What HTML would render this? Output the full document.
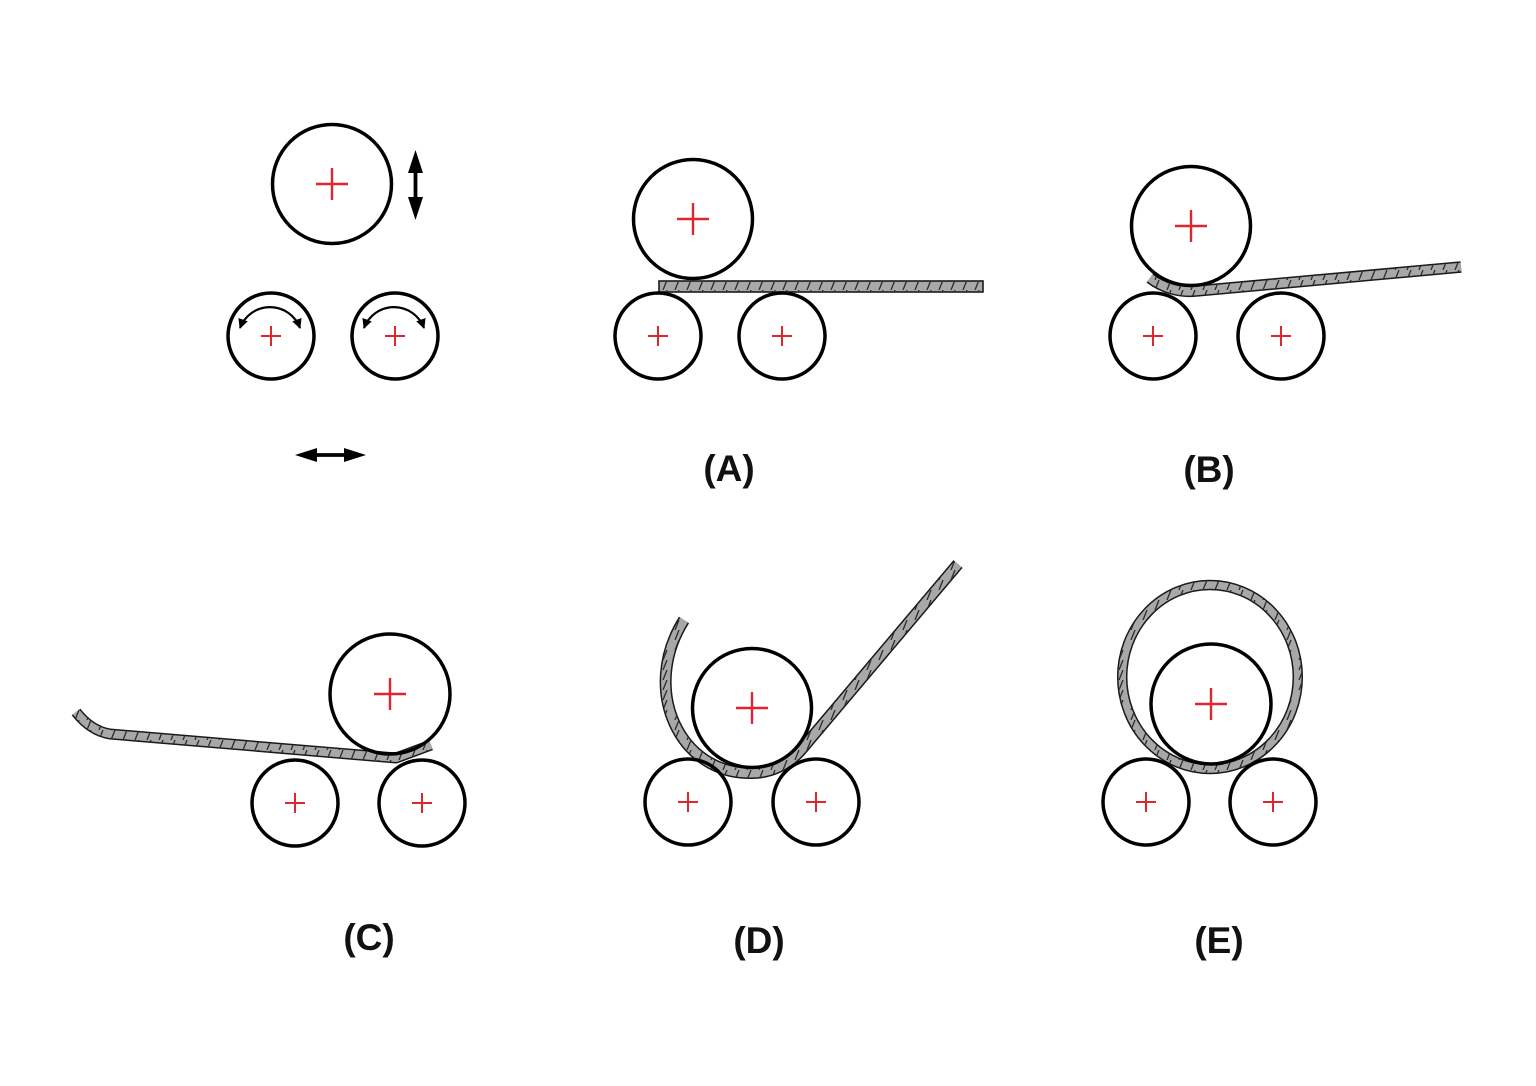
<!DOCTYPE html>
<html>
<head>
<meta charset="utf-8">
<style>
html,body{margin:0;padding:0;background:#fff;}
svg{display:block;}
text{font-family:"Liberation Sans",Arial,sans-serif;font-weight:bold;font-size:37px;fill:#111;}
</style>
</head>
<body>
<svg width="1536" height="1086" viewBox="0 0 1536 1086" xmlns="http://www.w3.org/2000/svg">
<defs>
  <pattern id="hatch" patternUnits="userSpaceOnUse" width="12" height="10">
    <line x1="3" y1="10" x2="7" y2="0" stroke="#2a2a2a" stroke-width="1.3"/>
  </pattern>
  <marker id="ah" viewBox="0 0 10 10" refX="9" refY="5" markerWidth="4.5" markerHeight="4.5" orient="auto-start-reverse" markerUnits="strokeWidth">
    <path d="M0,0 L10,5 L0,10 z" fill="#000"/>
  </marker>
</defs>

<!-- ===== Plates ===== -->
<rect x="659" y="281" width="324" height="11" fill="#a8a8a8" stroke="#1a1a1a" stroke-width="1.6"/>
<rect x="660" y="282" width="322" height="9" fill="url(#hatch)"/>

<g fill="none" stroke-linejoin="round">
  <path d="M 1150 278 A 65 65 0 0 0 1196 291 L 1461 267" stroke="#1a1a1a" stroke-width="11.5"/>
  <path d="M 1150 278 A 65 65 0 0 0 1196 291 L 1461 267" stroke="#a8a8a8" stroke-width="8.5"/>
  <path d="M 1150 278 A 65 65 0 0 0 1196 291 L 1461 267" stroke="url(#hatch)" stroke-width="8.5"/>
</g>

<g fill="none" stroke-linejoin="round">
  <path d="M 76 712 Q 91 731 110 734 L 396 758 L 431 745" stroke="#1a1a1a" stroke-width="11"/>
  <path d="M 76 712 Q 91 731 110 734 L 396 758 L 431 745" stroke="#a8a8a8" stroke-width="8"/>
  <path d="M 76 712 Q 91 731 110 734 L 396 758 L 431 745" stroke="url(#hatch)" stroke-width="8"/>
</g>

<g fill="none" stroke-linejoin="round">
  <path d="M 958 564 L 801 750 A 65 65 0 0 1 752 773 C 680 775 640 690 684 620" stroke="#1a1a1a" stroke-width="12"/>
  <path d="M 958 564 L 801 750 A 65 65 0 0 1 752 773 C 680 775 640 690 684 620" stroke="#a8a8a8" stroke-width="9"/>
  <path d="M 958 564 L 801 750 A 65 65 0 0 1 752 773 C 680 775 640 690 684 620" stroke="url(#hatch)" stroke-width="9"/>
</g>

<g fill="none">
  <ellipse cx="1210" cy="677" rx="87.8" ry="92" stroke="#1a1a1a" stroke-width="10.5"/>
  <ellipse cx="1210" cy="677" rx="87.8" ry="92" stroke="#a8a8a8" stroke-width="7.5"/>
  <ellipse cx="1210" cy="677" rx="87.8" ry="92" stroke="url(#hatch)" stroke-width="7.5"/>
</g>

<!-- ===== Rollers ===== -->
<g fill="none" stroke="#000" stroke-width="3.5">
  <circle cx="332" cy="184" r="59.5"/>
  <circle cx="271" cy="336" r="43"/>
  <circle cx="395" cy="336" r="43"/>
  <circle cx="693" cy="219" r="59.5"/>
  <circle cx="658" cy="336" r="43"/>
  <circle cx="782" cy="336" r="43"/>
  <circle cx="1191" cy="226" r="59.5"/>
  <circle cx="1153" cy="336" r="43"/>
  <circle cx="1281" cy="336" r="43"/>
  <circle cx="390" cy="694" r="60"/>
  <circle cx="295" cy="803" r="43"/>
  <circle cx="422" cy="803" r="43"/>
  <circle cx="752" cy="708" r="59.5"/>
  <circle cx="688" cy="802" r="43"/>
  <circle cx="816" cy="802" r="43"/>
  <circle cx="1211" cy="704" r="60"/>
  <circle cx="1146" cy="802" r="43"/>
  <circle cx="1273" cy="802" r="43"/>
</g>

<!-- ===== Red center crosses ===== -->
<g stroke="#e02530" stroke-width="2.4">
  <path d="M316 184 H348 M332 168 V200"/>
  <path d="M677 219 H709 M693 203 V235"/>
  <path d="M1175 226 H1207 M1191 210 V242"/>
  <path d="M374 694 H406 M390 678 V710"/>
  <path d="M736 708 H768 M752 692 V724"/>
  <path d="M1195 704 H1227 M1211 688 V720"/>
</g>
<g stroke="#e02530" stroke-width="2">
  <path d="M261 336 H281 M271 326 V346"/>
  <path d="M385 336 H405 M395 326 V346"/>
  <path d="M648 336 H668 M658 326 V346"/>
  <path d="M772 336 H792 M782 326 V346"/>
  <path d="M1143 336 H1163 M1153 326 V346"/>
  <path d="M1271 336 H1291 M1281 326 V346"/>
  <path d="M285 803 H305 M295 793 V813"/>
  <path d="M412 803 H432 M422 793 V813"/>
  <path d="M678 802 H698 M688 792 V812"/>
  <path d="M806 802 H826 M816 792 V812"/>
  <path d="M1136 802 H1156 M1146 792 V812"/>
  <path d="M1263 802 H1283 M1273 792 V812"/>
</g>

<!-- ===== Rotation arcs ===== -->
<g fill="none" stroke="#000" stroke-width="2.2">
  <path d="M 240 328 A 32 32 0 0 1 300 328" marker-start="url(#ah)" marker-end="url(#ah)"/>
  <path d="M 364 328 A 32 32 0 0 1 424 328" marker-start="url(#ah)" marker-end="url(#ah)"/>
</g>

<!-- ===== Motion arrows ===== -->
<line x1="415.5" y1="166" x2="415.5" y2="204" stroke="#000" stroke-width="3.8"/>
<polygon points="415.5,150 408,173 423,173" fill="#000"/>
<polygon points="415.5,220 408,197 423,197" fill="#000"/>

<line x1="310" y1="455" x2="352" y2="455" stroke="#000" stroke-width="3.8"/>
<polygon points="295,455 317,448 317,462" fill="#000"/>
<polygon points="366,455 344,448 344,462" fill="#000"/>

<!-- ===== Labels ===== -->
<text x="729" y="481" text-anchor="middle">(A)</text>
<text x="1209" y="482" text-anchor="middle">(B)</text>
<text x="369" y="950" text-anchor="middle">(C)</text>
<text x="759" y="953" text-anchor="middle">(D)</text>
<text x="1219" y="953" text-anchor="middle">(E)</text>
</svg>
</body>
</html>
